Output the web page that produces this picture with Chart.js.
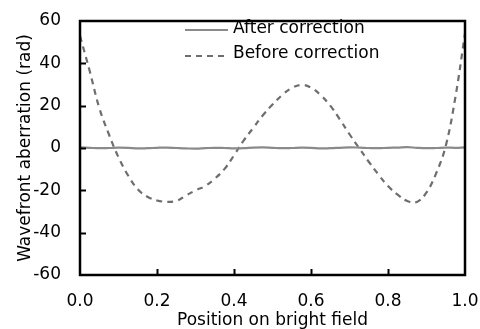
<!DOCTYPE html>
<html>
<head>
<meta charset="utf-8">
<script src="https://cdn.jsdelivr.net/npm/chart.js@4.4.0/dist/chart.umd.min.js"></script>
<style>
  html, body { margin: 0; padding: 0; background: #fff; }
  #wrap { width: 480px; height: 329px; }
</style>
</head>
<body>
<div id="wrap"><canvas id="waveChart" width="480" height="329"></canvas></div>
<script>
const positions = [0, 0.025, 0.05, 0.075, 0.1, 0.125, 0.15, 0.175, 0.2, 0.225,
  0.25, 0.275, 0.3, 0.325, 0.35, 0.375, 0.4, 0.425, 0.45, 0.475,
  0.5, 0.525, 0.55, 0.575, 0.6, 0.625, 0.65, 0.675, 0.7, 0.725,
  0.75, 0.775, 0.8, 0.825, 0.85, 0.875, 0.9, 0.925, 0.95, 0.975, 1];

const afterCorrection = [0.3, 0.1, -0.1, 0.0, 0.2, 0.1, -0.2, -0.1, 0.1, 0.2,
  0.0, -0.2, -0.3, -0.1, 0.1, 0.0, -0.2, -0.1, 0.2, 0.3,
  0.1, -0.1, 0.0, 0.2, 0.1, -0.2, -0.1, 0.1, 0.3, 0.2,
  0.0, -0.1, 0.1, 0.2, 0.4, 0.1, -0.1, 0.0, 0.2, 0.1, 0.3];

const beforeCorrection = [53, 36.5, 19, 6.5, -4.4, -13, -19.5, -23, -24.8, -25.4,
  -25, -22.5, -20, -18, -14.5, -10, -3.5, 3.5, 9.5, 15.5,
  20.5, 25, 28.3, 29.8, 28.5, 25, 20, 13.5, 6.5, 0,
  -6.5, -12.5, -18, -22, -25, -25.5, -21, -12, 1, 24, 54];

const yTicks = [-60, -40, -20, 0, 20, 40, 60];
const xTicks = [0, 0.2, 0.4, 0.6, 0.8, 1.0];

const FONT = 'DejaVu Sans';

function toPoints(values) {
  return positions.map((x, i) => ({ x: x, y: values[i] }));
}

// frame, inward tick marks, in-plot legend
const framePlugin = {
  id: 'frame',
  afterDraw(chart) {
    const { ctx, chartArea: a, scales } = chart;
    ctx.save();
    ctx.strokeStyle = '#000';
    ctx.lineWidth = 2;
    yTicks.slice(1, -1).forEach(v => {
      const y = Math.round(scales.y.getPixelForValue(v)) + 0.5;
      ctx.beginPath();
      ctx.moveTo(a.left, y);
      ctx.lineTo(a.left + 6, y);
      ctx.stroke();
    });
    xTicks.slice(1, -1).forEach(v => {
      const x = Math.round(scales.x.getPixelForValue(v)) + 0.5;
      ctx.beginPath();
      ctx.moveTo(x, a.bottom);
      ctx.lineTo(x, a.bottom - 6);
      ctx.stroke();
    });
    ctx.lineWidth = 2.5;
    ctx.strokeRect(a.left, a.top, a.right - a.left, a.bottom - a.top);

    // legend
    const rows = [30, 56];
    ctx.font = '17px "' + FONT + '"';
    ctx.textBaseline = 'middle';
    ctx.fillStyle = '#000';
    chart.data.datasets.forEach((ds, i) => {
      const y = rows[i];
      ctx.beginPath();
      ctx.strokeStyle = ds.borderColor;
      ctx.lineWidth = ds.borderWidth;
      ctx.setLineDash(ds.borderDash || []);
      ctx.moveTo(185, y);
      ctx.lineTo(228, y);
      ctx.stroke();
      ctx.setLineDash([]);
      ctx.fillText(ds.label, 233, i === 0 ? 29 : 54);
    });
    ctx.restore();
  }
};

new Chart(document.getElementById('waveChart'), {
  type: 'line',
  data: {
    datasets: [
      {
        label: 'After correction',
        data: toPoints(afterCorrection),
        borderColor: '#8a8a8a',
        borderWidth: 2.2,
        pointRadius: 0,
        tension: 0.4
      },
      {
        label: 'Before correction',
        data: toPoints(beforeCorrection),
        borderColor: '#6e6e6e',
        borderWidth: 2.2,
        borderDash: [6, 5],
        pointRadius: 0,
        tension: 0.4
      }
    ]
  },
  options: {
    responsive: false,
    animation: false,
    layout: { padding: { top: 21, right: 15, left: 0, bottom: 0 } },
    plugins: {
      legend: { display: false },
      tooltip: { enabled: false }
    },
    scales: {
      x: {
        type: 'linear',
        min: 0,
        max: 1,
        afterFit: s => { s.height = 54; s.paddingLeft = 0; s.paddingRight = 0; },
        afterBuildTicks: s => { s.ticks = xTicks.map(v => ({ value: v })); },
        grid: { display: false, drawTicks: false },
        border: { display: false },
        ticks: {
          color: '#000',
          padding: 16,
          maxRotation: 0,
          font: { family: FONT, size: 17 },
          callback: v => Number(v).toFixed(1)
        },
        title: {
          display: true,
          text: 'Position on bright field',
          color: '#000',
          padding: 0,
          font: { family: FONT, size: 17, lineHeight: 1 }
        }
      },
      y: {
        min: -60,
        max: 60,
        afterFit: s => { s.width = 80; s.paddingTop = 0; s.paddingBottom = 0; },
        afterBuildTicks: s => { s.ticks = yTicks.map(v => ({ value: v })); },
        grid: { display: false, drawTicks: false },
        border: { display: false },
        ticks: {
          color: '#000',
          padding: 19,
          font: { family: FONT, size: 17 }
        },
        title: {
          display: true,
          text: 'Wavefront aberration (rad)',
          color: '#000',
          padding: { top: 17 },
          font: { family: FONT, size: 17, lineHeight: 1 }
        }
      }
    }
  },
  plugins: [framePlugin]
});
</script>
</body>
</html>
